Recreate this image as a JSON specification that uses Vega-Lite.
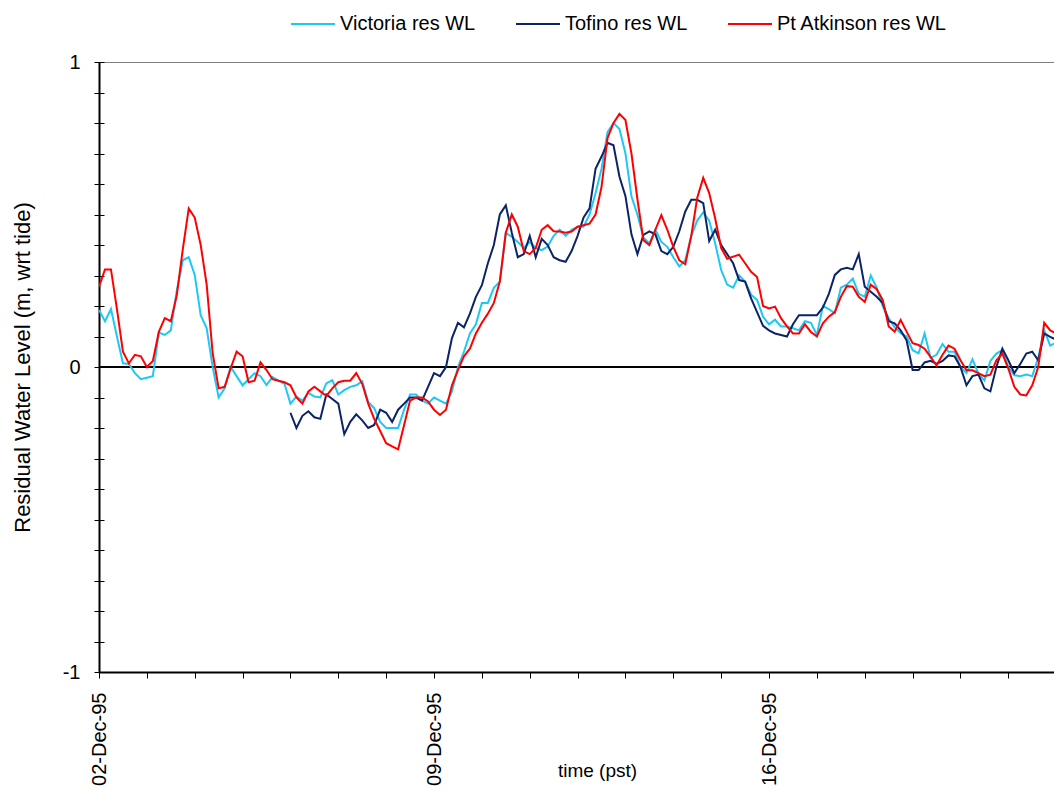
{
  "$schema": "https://vega.github.io/schema/vega-lite/v6.json",
  "width": 955,
  "height": 610,
  "autosize": "none",
  "padding": {"left": 99, "top": 62, "right": 0, "bottom": 122},
  "background": "white",
  "config": {
    "font": "Liberation Sans",
    "view": {"stroke": "#808080", "strokeWidth": 1}
  },
  "data": {"values": [
    {"t":"1995-12-02T00:00","Victoria":0.187,"Tofino":null,"Pt Atkinson":0.263},
    {"t":"1995-12-02T03:00","Victoria":0.15,"Tofino":null,"Pt Atkinson":0.32},
    {"t":"1995-12-02T06:00","Victoria":0.19,"Tofino":null,"Pt Atkinson":0.32},
    {"t":"1995-12-02T09:00","Victoria":0.10,"Tofino":null,"Pt Atkinson":0.19},
    {"t":"1995-12-02T12:00","Victoria":0.012,"Tofino":null,"Pt Atkinson":0.05},
    {"t":"1995-12-02T15:00","Victoria":0.01,"Tofino":null,"Pt Atkinson":0.012},
    {"t":"1995-12-02T18:00","Victoria":-0.02,"Tofino":null,"Pt Atkinson":0.04},
    {"t":"1995-12-02T21:00","Victoria":-0.04,"Tofino":null,"Pt Atkinson":0.035},
    {"t":"1995-12-03T00:00","Victoria":-0.035,"Tofino":null,"Pt Atkinson":0.0},
    {"t":"1995-12-03T03:00","Victoria":-0.03,"Tofino":null,"Pt Atkinson":0.02},
    {"t":"1995-12-03T06:00","Victoria":0.113,"Tofino":null,"Pt Atkinson":0.115},
    {"t":"1995-12-03T09:00","Victoria":0.105,"Tofino":null,"Pt Atkinson":0.16},
    {"t":"1995-12-03T12:00","Victoria":0.12,"Tofino":null,"Pt Atkinson":0.15},
    {"t":"1995-12-03T15:00","Victoria":0.25,"Tofino":null,"Pt Atkinson":0.235},
    {"t":"1995-12-03T18:00","Victoria":0.35,"Tofino":null,"Pt Atkinson":0.385},
    {"t":"1995-12-03T21:00","Victoria":0.36,"Tofino":null,"Pt Atkinson":0.52},
    {"t":"1995-12-04T00:00","Victoria":0.302,"Tofino":null,"Pt Atkinson":0.49},
    {"t":"1995-12-04T03:00","Victoria":0.17,"Tofino":null,"Pt Atkinson":0.40},
    {"t":"1995-12-04T06:00","Victoria":0.127,"Tofino":null,"Pt Atkinson":0.27},
    {"t":"1995-12-04T09:00","Victoria":0.0,"Tofino":null,"Pt Atkinson":0.045},
    {"t":"1995-12-04T12:00","Victoria":-0.1,"Tofino":null,"Pt Atkinson":-0.07},
    {"t":"1995-12-04T15:00","Victoria":-0.07,"Tofino":null,"Pt Atkinson":-0.065},
    {"t":"1995-12-04T18:00","Victoria":0.0,"Tofino":null,"Pt Atkinson":-0.005},
    {"t":"1995-12-04T21:00","Victoria":-0.03,"Tofino":null,"Pt Atkinson":0.05},
    {"t":"1995-12-05T00:00","Victoria":-0.06,"Tofino":null,"Pt Atkinson":0.035},
    {"t":"1995-12-05T03:00","Victoria":-0.04,"Tofino":null,"Pt Atkinson":-0.05},
    {"t":"1995-12-05T06:00","Victoria":-0.02,"Tofino":null,"Pt Atkinson":-0.045},
    {"t":"1995-12-05T09:00","Victoria":-0.03,"Tofino":null,"Pt Atkinson":0.015},
    {"t":"1995-12-05T12:00","Victoria":-0.059,"Tofino":null,"Pt Atkinson":-0.01},
    {"t":"1995-12-05T15:00","Victoria":-0.033,"Tofino":null,"Pt Atkinson":-0.04},
    {"t":"1995-12-05T18:00","Victoria":-0.045,"Tofino":null,"Pt Atkinson":-0.045},
    {"t":"1995-12-05T21:00","Victoria":-0.055,"Tofino":null,"Pt Atkinson":-0.05},
    {"t":"1995-12-06T00:00","Victoria":-0.12,"Tofino":-0.15,"Pt Atkinson":-0.06},
    {"t":"1995-12-06T03:00","Victoria":-0.097,"Tofino":-0.2,"Pt Atkinson":-0.10},
    {"t":"1995-12-06T06:00","Victoria":-0.11,"Tofino":-0.16,"Pt Atkinson":-0.12},
    {"t":"1995-12-06T09:00","Victoria":-0.085,"Tofino":-0.145,"Pt Atkinson":-0.08},
    {"t":"1995-12-06T12:00","Victoria":-0.097,"Tofino":-0.165,"Pt Atkinson":-0.065},
    {"t":"1995-12-06T15:00","Victoria":-0.10,"Tofino":-0.17,"Pt Atkinson":-0.08},
    {"t":"1995-12-06T18:00","Victoria":-0.054,"Tofino":-0.09,"Pt Atkinson":-0.095},
    {"t":"1995-12-06T21:00","Victoria":-0.043,"Tofino":-0.105,"Pt Atkinson":-0.07},
    {"t":"1995-12-07T00:00","Victoria":-0.09,"Tofino":-0.12,"Pt Atkinson":-0.05},
    {"t":"1995-12-07T03:00","Victoria":-0.076,"Tofino":-0.22,"Pt Atkinson":-0.045},
    {"t":"1995-12-07T06:00","Victoria":-0.065,"Tofino":-0.18,"Pt Atkinson":-0.045},
    {"t":"1995-12-07T09:00","Victoria":-0.06,"Tofino":-0.155,"Pt Atkinson":-0.02},
    {"t":"1995-12-07T12:00","Victoria":-0.047,"Tofino":-0.175,"Pt Atkinson":-0.055},
    {"t":"1995-12-07T15:00","Victoria":-0.115,"Tofino":-0.2,"Pt Atkinson":-0.12},
    {"t":"1995-12-07T18:00","Victoria":-0.135,"Tofino":-0.19,"Pt Atkinson":-0.17},
    {"t":"1995-12-07T21:00","Victoria":-0.18,"Tofino":-0.14,"Pt Atkinson":-0.21},
    {"t":"1995-12-08T00:00","Victoria":-0.2,"Tofino":-0.15,"Pt Atkinson":-0.25},
    {"t":"1995-12-08T03:00","Victoria":-0.2,"Tofino":-0.18,"Pt Atkinson":-0.26},
    {"t":"1995-12-08T06:00","Victoria":-0.2,"Tofino":-0.14,"Pt Atkinson":-0.27},
    {"t":"1995-12-08T09:00","Victoria":-0.14,"Tofino":-0.12,"Pt Atkinson":-0.19},
    {"t":"1995-12-08T12:00","Victoria":-0.09,"Tofino":-0.1,"Pt Atkinson":-0.11},
    {"t":"1995-12-08T15:00","Victoria":-0.09,"Tofino":-0.1,"Pt Atkinson":-0.1},
    {"t":"1995-12-08T18:00","Victoria":-0.11,"Tofino":-0.11,"Pt Atkinson":-0.1},
    {"t":"1995-12-08T21:00","Victoria":-0.12,"Tofino":-0.065,"Pt Atkinson":-0.113},
    {"t":"1995-12-09T00:00","Victoria":-0.1,"Tofino":-0.02,"Pt Atkinson":-0.14},
    {"t":"1995-12-09T03:00","Victoria":-0.11,"Tofino":-0.03,"Pt Atkinson":-0.157},
    {"t":"1995-12-09T06:00","Victoria":-0.12,"Tofino":0.0,"Pt Atkinson":-0.14},
    {"t":"1995-12-09T09:00","Victoria":-0.08,"Tofino":0.095,"Pt Atkinson":-0.06},
    {"t":"1995-12-09T12:00","Victoria":0.0,"Tofino":0.145,"Pt Atkinson":-0.01},
    {"t":"1995-12-09T15:00","Victoria":0.05,"Tofino":0.13,"Pt Atkinson":0.035},
    {"t":"1995-12-09T18:00","Victoria":0.11,"Tofino":0.175,"Pt Atkinson":0.06},
    {"t":"1995-12-09T21:00","Victoria":0.14,"Tofino":0.23,"Pt Atkinson":0.11},
    {"t":"1995-12-10T00:00","Victoria":0.21,"Tofino":0.268,"Pt Atkinson":0.145},
    {"t":"1995-12-10T03:00","Victoria":0.21,"Tofino":0.34,"Pt Atkinson":0.175},
    {"t":"1995-12-10T06:00","Victoria":0.26,"Tofino":0.4,"Pt Atkinson":0.21},
    {"t":"1995-12-10T09:00","Victoria":0.28,"Tofino":0.5,"Pt Atkinson":0.28},
    {"t":"1995-12-10T12:00","Victoria":0.44,"Tofino":0.53,"Pt Atkinson":0.44},
    {"t":"1995-12-10T15:00","Victoria":0.427,"Tofino":0.44,"Pt Atkinson":0.5},
    {"t":"1995-12-10T18:00","Victoria":0.41,"Tofino":0.36,"Pt Atkinson":0.46},
    {"t":"1995-12-10T21:00","Victoria":0.39,"Tofino":0.37,"Pt Atkinson":0.38},
    {"t":"1995-12-11T00:00","Victoria":0.41,"Tofino":0.43,"Pt Atkinson":0.37},
    {"t":"1995-12-11T03:00","Victoria":0.39,"Tofino":0.36,"Pt Atkinson":0.39},
    {"t":"1995-12-11T06:00","Victoria":0.383,"Tofino":0.42,"Pt Atkinson":0.45},
    {"t":"1995-12-11T09:00","Victoria":0.395,"Tofino":0.4,"Pt Atkinson":0.465},
    {"t":"1995-12-11T12:00","Victoria":0.43,"Tofino":0.36,"Pt Atkinson":0.445},
    {"t":"1995-12-11T15:00","Victoria":0.45,"Tofino":0.35,"Pt Atkinson":0.444},
    {"t":"1995-12-11T18:00","Victoria":0.43,"Tofino":0.345,"Pt Atkinson":0.44},
    {"t":"1995-12-11T21:00","Victoria":0.45,"Tofino":0.38,"Pt Atkinson":0.444},
    {"t":"1995-12-12T00:00","Victoria":0.46,"Tofino":0.43,"Pt Atkinson":0.46},
    {"t":"1995-12-12T03:00","Victoria":0.46,"Tofino":0.49,"Pt Atkinson":0.465},
    {"t":"1995-12-12T06:00","Victoria":0.5,"Tofino":0.52,"Pt Atkinson":0.47},
    {"t":"1995-12-12T09:00","Victoria":0.57,"Tofino":0.65,"Pt Atkinson":0.5},
    {"t":"1995-12-12T12:00","Victoria":0.65,"Tofino":0.69,"Pt Atkinson":0.59},
    {"t":"1995-12-12T15:00","Victoria":0.77,"Tofino":0.735,"Pt Atkinson":0.75},
    {"t":"1995-12-12T18:00","Victoria":0.80,"Tofino":0.727,"Pt Atkinson":0.80},
    {"t":"1995-12-12T21:00","Victoria":0.78,"Tofino":0.624,"Pt Atkinson":0.83},
    {"t":"1995-12-13T00:00","Victoria":0.70,"Tofino":0.56,"Pt Atkinson":0.81},
    {"t":"1995-12-13T03:00","Victoria":0.56,"Tofino":0.435,"Pt Atkinson":0.70},
    {"t":"1995-12-13T06:00","Victoria":0.50,"Tofino":0.37,"Pt Atkinson":0.55},
    {"t":"1995-12-13T09:00","Victoria":0.425,"Tofino":0.433,"Pt Atkinson":0.416},
    {"t":"1995-12-13T12:00","Victoria":0.405,"Tofino":0.445,"Pt Atkinson":0.40},
    {"t":"1995-12-13T15:00","Victoria":0.45,"Tofino":0.435,"Pt Atkinson":0.45},
    {"t":"1995-12-13T18:00","Victoria":0.41,"Tofino":0.38,"Pt Atkinson":0.498},
    {"t":"1995-12-13T21:00","Victoria":0.394,"Tofino":0.37,"Pt Atkinson":0.45},
    {"t":"1995-12-14T00:00","Victoria":0.36,"Tofino":0.394,"Pt Atkinson":0.394},
    {"t":"1995-12-14T03:00","Victoria":0.33,"Tofino":0.445,"Pt Atkinson":0.35},
    {"t":"1995-12-14T06:00","Victoria":0.35,"Tofino":0.51,"Pt Atkinson":0.337},
    {"t":"1995-12-14T09:00","Victoria":0.43,"Tofino":0.548,"Pt Atkinson":0.43},
    {"t":"1995-12-14T12:00","Victoria":0.48,"Tofino":0.548,"Pt Atkinson":0.555},
    {"t":"1995-12-14T15:00","Victoria":0.507,"Tofino":0.537,"Pt Atkinson":0.62},
    {"t":"1995-12-14T18:00","Victoria":0.48,"Tofino":0.413,"Pt Atkinson":0.57},
    {"t":"1995-12-14T21:00","Victoria":0.405,"Tofino":0.45,"Pt Atkinson":0.487},
    {"t":"1995-12-15T00:00","Victoria":0.318,"Tofino":0.40,"Pt Atkinson":0.39},
    {"t":"1995-12-15T03:00","Victoria":0.27,"Tofino":0.37,"Pt Atkinson":0.355},
    {"t":"1995-12-15T06:00","Victoria":0.26,"Tofino":0.34,"Pt Atkinson":0.362},
    {"t":"1995-12-15T09:00","Victoria":0.30,"Tofino":0.285,"Pt Atkinson":0.368},
    {"t":"1995-12-15T12:00","Victoria":0.28,"Tofino":0.28,"Pt Atkinson":0.34},
    {"t":"1995-12-15T15:00","Victoria":0.237,"Tofino":0.225,"Pt Atkinson":0.312},
    {"t":"1995-12-15T18:00","Victoria":0.22,"Tofino":0.18,"Pt Atkinson":0.295},
    {"t":"1995-12-15T21:00","Victoria":0.165,"Tofino":0.135,"Pt Atkinson":0.2},
    {"t":"1995-12-16T00:00","Victoria":0.14,"Tofino":0.12,"Pt Atkinson":0.192},
    {"t":"1995-12-16T03:00","Victoria":0.155,"Tofino":0.11,"Pt Atkinson":0.198},
    {"t":"1995-12-16T06:00","Victoria":0.133,"Tofino":0.105,"Pt Atkinson":0.16},
    {"t":"1995-12-16T09:00","Victoria":0.133,"Tofino":0.1,"Pt Atkinson":0.133},
    {"t":"1995-12-16T12:00","Victoria":0.127,"Tofino":0.14,"Pt Atkinson":0.11},
    {"t":"1995-12-16T15:00","Victoria":0.12,"Tofino":0.17,"Pt Atkinson":0.11},
    {"t":"1995-12-16T18:00","Victoria":0.15,"Tofino":0.17,"Pt Atkinson":0.14},
    {"t":"1995-12-16T21:00","Victoria":0.145,"Tofino":0.17,"Pt Atkinson":0.115},
    {"t":"1995-12-17T00:00","Victoria":0.105,"Tofino":0.17,"Pt Atkinson":0.1},
    {"t":"1995-12-17T03:00","Victoria":0.2,"Tofino":0.195,"Pt Atkinson":0.143},
    {"t":"1995-12-17T06:00","Victoria":0.19,"Tofino":0.24,"Pt Atkinson":0.165},
    {"t":"1995-12-17T09:00","Victoria":0.176,"Tofino":0.302,"Pt Atkinson":0.18},
    {"t":"1995-12-17T12:00","Victoria":0.26,"Tofino":0.32,"Pt Atkinson":0.23},
    {"t":"1995-12-17T15:00","Victoria":0.27,"Tofino":0.325,"Pt Atkinson":0.265},
    {"t":"1995-12-17T18:00","Victoria":0.29,"Tofino":0.32,"Pt Atkinson":0.263},
    {"t":"1995-12-17T21:00","Victoria":0.24,"Tofino":0.37,"Pt Atkinson":0.23},
    {"t":"1995-12-18T00:00","Victoria":0.23,"Tofino":0.263,"Pt Atkinson":0.214},
    {"t":"1995-12-18T03:00","Victoria":0.3,"Tofino":0.247,"Pt Atkinson":0.27},
    {"t":"1995-12-18T06:00","Victoria":0.26,"Tofino":0.23,"Pt Atkinson":0.255},
    {"t":"1995-12-18T09:00","Victoria":0.2,"Tofino":0.21,"Pt Atkinson":0.22},
    {"t":"1995-12-18T12:00","Victoria":0.16,"Tofino":0.15,"Pt Atkinson":0.133},
    {"t":"1995-12-18T15:00","Victoria":0.13,"Tofino":0.143,"Pt Atkinson":0.116},
    {"t":"1995-12-18T18:00","Victoria":0.111,"Tofino":0.12,"Pt Atkinson":0.154},
    {"t":"1995-12-18T21:00","Victoria":0.1,"Tofino":0.087,"Pt Atkinson":0.116},
    {"t":"1995-12-19T00:00","Victoria":0.055,"Tofino":-0.01,"Pt Atkinson":0.078},
    {"t":"1995-12-19T03:00","Victoria":0.045,"Tofino":-0.01,"Pt Atkinson":0.072},
    {"t":"1995-12-19T06:00","Victoria":0.11,"Tofino":0.015,"Pt Atkinson":0.06},
    {"t":"1995-12-19T09:00","Victoria":0.03,"Tofino":0.02,"Pt Atkinson":0.033},
    {"t":"1995-12-19T12:00","Victoria":0.04,"Tofino":0.01,"Pt Atkinson":0.005},
    {"t":"1995-12-19T15:00","Victoria":0.075,"Tofino":0.02,"Pt Atkinson":0.04},
    {"t":"1995-12-19T18:00","Victoria":0.05,"Tofino":0.038,"Pt Atkinson":0.07},
    {"t":"1995-12-19T21:00","Victoria":0.05,"Tofino":0.035,"Pt Atkinson":0.06},
    {"t":"1995-12-20T00:00","Victoria":0.0,"Tofino":0.0,"Pt Atkinson":0.022},
    {"t":"1995-12-20T03:00","Victoria":-0.02,"Tofino":-0.06,"Pt Atkinson":-0.011},
    {"t":"1995-12-20T06:00","Victoria":0.025,"Tofino":-0.03,"Pt Atkinson":-0.011},
    {"t":"1995-12-20T09:00","Victoria":-0.022,"Tofino":-0.025,"Pt Atkinson":-0.02},
    {"t":"1995-12-20T12:00","Victoria":-0.044,"Tofino":-0.07,"Pt Atkinson":-0.03},
    {"t":"1995-12-20T15:00","Victoria":0.02,"Tofino":-0.08,"Pt Atkinson":-0.025},
    {"t":"1995-12-20T18:00","Victoria":0.044,"Tofino":0.0,"Pt Atkinson":0.022},
    {"t":"1995-12-20T21:00","Victoria":0.055,"Tofino":0.06,"Pt Atkinson":0.044},
    {"t":"1995-12-21T00:00","Victoria":0.0,"Tofino":0.022,"Pt Atkinson":-0.005},
    {"t":"1995-12-21T03:00","Victoria":-0.027,"Tofino":-0.02,"Pt Atkinson":-0.065},
    {"t":"1995-12-21T06:00","Victoria":-0.03,"Tofino":0.01,"Pt Atkinson":-0.09},
    {"t":"1995-12-21T09:00","Victoria":-0.025,"Tofino":0.044,"Pt Atkinson":-0.093},
    {"t":"1995-12-21T12:00","Victoria":-0.03,"Tofino":0.05,"Pt Atkinson":-0.06},
    {"t":"1995-12-21T15:00","Victoria":0.03,"Tofino":0.022,"Pt Atkinson":0.0},
    {"t":"1995-12-21T18:00","Victoria":0.12,"Tofino":0.11,"Pt Atkinson":0.145},
    {"t":"1995-12-21T21:00","Victoria":0.07,"Tofino":0.099,"Pt Atkinson":0.12},
    {"t":"1995-12-22T00:00","Victoria":0.08,"Tofino":0.09,"Pt Atkinson":0.11}
  ]},
  "layer": [
    {
      "data": {"values": [{"level": 0}]},
      "mark": {"type": "rule", "color": "black", "strokeWidth": 2},
      "encoding": {
        "y": {
          "field": "level", "type": "quantitative",
          "scale": {"domain": [-1, 1], "nice": false, "zero": false},
          "axis": {
            "orient": "left",
            "values": [-1,-0.9,-0.8,-0.7,-0.6,-0.5,-0.4,-0.3,-0.2,-0.1,0,0.1,0.2,0.3,0.4,0.5,0.6,0.7,0.8,0.9,1],
            "labels": false, "domain": false, "grid": false,
            "ticks": true, "tickSize": 10, "offset": -5,
            "tickColor": "black", "tickWidth": 1,
            "title": null
          }
        }
      }
    },
    {
      "transform": [{"fold": ["Victoria", "Tofino", "Pt Atkinson"], "as": ["station", "wl"]}],
      "mark": {"type": "line", "strokeWidth": 2, "clip": true},
      "encoding": {
        "x": {
          "field": "t", "type": "temporal",
          "scale": {"domain": [{"year": 1995, "month": 12, "date": 2}, {"year": 1995, "month": 12, "date": 21, "hours": 22, "minutes": 54}]},
          "axis": {
            "orient": "bottom",
            "values": [
              {"year":1995,"month":12,"date":2},{"year":1995,"month":12,"date":3},{"year":1995,"month":12,"date":4},
              {"year":1995,"month":12,"date":5},{"year":1995,"month":12,"date":6},{"year":1995,"month":12,"date":7},
              {"year":1995,"month":12,"date":8},{"year":1995,"month":12,"date":9},{"year":1995,"month":12,"date":10},
              {"year":1995,"month":12,"date":11},{"year":1995,"month":12,"date":12},{"year":1995,"month":12,"date":13},
              {"year":1995,"month":12,"date":14},{"year":1995,"month":12,"date":15},{"year":1995,"month":12,"date":16},
              {"year":1995,"month":12,"date":17},{"year":1995,"month":12,"date":18},{"year":1995,"month":12,"date":19},
              {"year":1995,"month":12,"date":20},{"year":1995,"month":12,"date":21}
            ],
            "labelExpr": "indexof([2, 9, 16], date(datum.value)) >= 0 ? timeFormat(datum.value, '%d-%b-%y') : ''",
            "labelAngle": 270, "labelAlign": "right", "labelBaseline": "middle",
            "labelFontSize": 20, "labelColor": "black", "labelPadding": 14,
            "labelOverlap": false, "labelFlush": false, "labelBound": false,
            "tickSize": 6, "tickColor": "black", "tickWidth": 1,
            "domainColor": "black", "domainWidth": 2, "grid": false,
            "title": "time (pst)", "titleFontSize": 19, "titleFontWeight": "normal", "titleColor": "black",
            "titleX": 498, "titleY": 98, "titleBaseline": "middle", "titleAlign": "center"
          }
        },
        "y": {
          "field": "wl", "type": "quantitative",
          "scale": {"domain": [-1, 1], "nice": false, "zero": false},
          "axis": {
            "orient": "left",
            "values": [-1, 0, 1],
            "labelExpr": "datum.value < 0 ? '-1' : (datum.value > 0 ? '1' : '0')",
            "labelFontSize": 20, "labelColor": "black", "labelPadding": 19,
            "ticks": false, "tickSize": 0,
            "domain": true, "domainColor": "black", "domainWidth": 2, "grid": false,
            "title": "Residual Water Level (m, wrt tide)", "titleFontSize": 22, "titleFontWeight": "normal", "titleColor": "black",
            "titleX": -77, "titleY": 305, "titleAngle": 270, "titleBaseline": "middle", "titleAlign": "center"
          }
        },
        "color": {
          "field": "station", "type": "nominal",
          "scale": {"domain": ["Victoria", "Tofino", "Pt Atkinson"], "range": ["#1EC8F5", "#0C2466", "#FF0000"]},
          "legend": {
            "orient": "none", "legendX": 191, "legendY": -61, "direction": "horizontal",
            "title": null, "symbolType": "stroke", "symbolSize": 1936, "symbolStrokeWidth": 2,
            "labelFontSize": 20, "labelColor": "black", "labelOffset": 4, "columnPadding": 36,
            "labelExpr": "datum.label + ' res WL'", "labelLimit": 0
          }
        }
      }
    }
  ],
  "resolve": {"axis": {"y": "independent"}}
}
